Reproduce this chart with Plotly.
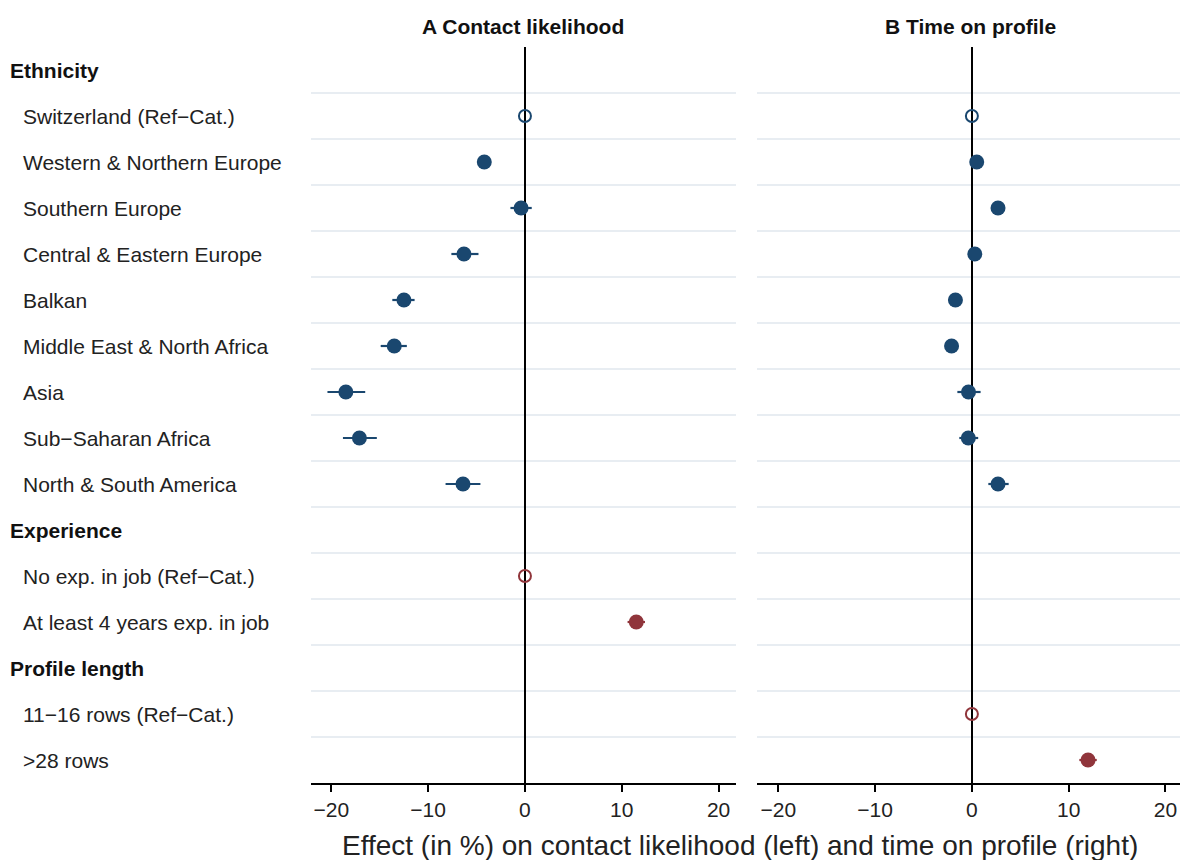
import plotly.graph_objects as go

# ---------------- data ----------------
row_labels = [
    "Ethnicity",
    "Switzerland (Ref\u2212Cat.)",
    "Western & Northern Europe",
    "Southern Europe",
    "Central & Eastern Europe",
    "Balkan",
    "Middle East & North Africa",
    "Asia",
    "Sub\u2212Saharan Africa",
    "North & South America",
    "Experience",
    "No exp. in job (Ref\u2212Cat.)",
    "At least 4 years exp. in job",
    "Profile length",
    "11\u221216 rows (Ref\u2212Cat.)",
    ">28 rows",
]
is_header = [True, False, False, False, False, False, False, False, False, False,
             True, False, False, True, False, False]
row_group = ["eth", "eth", "eth", "eth", "eth", "eth", "eth", "eth", "eth", "eth",
             "exp", "exp", "exp", "len", "len", "len"]
is_ref = [False, True, False, False, False, False, False, False, False, False,
          False, True, False, False, True, False]

# Panel A: contact likelihood (estimate, lower CI, upper CI)
contact_est = [None, 0, -4.2, -0.4, -6.3, -12.5, -13.5, -18.5, -17.1, -6.4,
               None, 0, 11.5, None, None, None]
contact_lo = [None, 0, -4.7, -1.5, -7.6, -13.7, -14.9, -20.4, -18.8, -8.2,
              None, 0, 10.6, None, None, None]
contact_hi = [None, 0, -3.7, 0.7, -4.8, -11.4, -12.2, -16.5, -15.3, -4.6,
              None, 0, 12.4, None, None, None]

# Panel B: time on profile
time_est = [None, 0, 0.5, 2.7, 0.3, -1.7, -2.1, -0.35, -0.37, 2.7,
            None, None, None, None, 0, 12.0]
time_lo = [None, 0, 0.1, 2.3, -0.1, -2.1, -2.5, -1.5, -1.3, 1.7,
           None, None, None, None, 0, 11.1]
time_hi = [None, 0, 0.9, 3.1, 0.7, -1.3, -1.7, 0.9, 0.65, 3.8,
           None, None, None, None, 0, 12.9]

panel_titles = ["<b>A Contact likelihood</b>", "<b>B Time on profile</b>"]
x_title = "Effect (in %) on contact likelihood (left) and time on profile (right)"
x_ticks = [-20, -10, 0, 10, 20]

# ---------------- style ----------------
NAVY = "#1a476f"
MAROON = "#90353b"
GRID = "#e8edf2"
FONT = "Liberation Sans, Arial, Helvetica, sans-serif"
group_color = {"eth": NAVY, "exp": MAROON, "len": MAROON}

rows = list(range(1, len(row_labels) + 1))

fig = go.Figure()


def add_panel(est, lo, hi, xa, ya):
    for i, v in enumerate(est):
        if v is None:
            continue
        c = group_color[row_group[i]]
        if is_ref[i]:
            fig.add_trace(go.Scatter(
                x=[v], y=[rows[i]], mode="markers", xaxis=xa, yaxis=ya,
                marker=dict(symbol="circle-open", size=12, color=c,
                            line=dict(width=2, color=c)),
                showlegend=False, hoverinfo="skip"))
        else:
            fig.add_trace(go.Scatter(
                x=[v], y=[rows[i]], mode="markers", xaxis=xa, yaxis=ya,
                marker=dict(symbol="circle", size=15, color=c),
                error_x=dict(type="data", symmetric=False,
                             array=[hi[i] - v], arrayminus=[v - lo[i]],
                             color=c, thickness=2.2, width=0),
                showlegend=False, hoverinfo="skip"))


add_panel(contact_est, contact_lo, contact_hi, "x", "y")
add_panel(time_est, time_lo, time_hi, "x2", "y2")

W, H = 1180, 860
T, B = 47, 77
PH = H - T - B
left_dom = [311 / W, 736 / W]
right_dom = [757 / W, 1.0]


def py(p):
    return (H - B - p) / PH


xcommon = dict(
    tickvals=x_ticks,
    ticktext=[("\u2212" + str(abs(t))) if t < 0 else str(t) for t in x_ticks],
    showgrid=False, zeroline=True, zerolinecolor="black", zerolinewidth=2,
    showline=True, linecolor="black", linewidth=1.5,
    ticks="outside", ticklen=7, tickwidth=1.5, tickcolor="black",
    tickfont=dict(family=FONT, size=21, color="#222"),
)
gridvals = [r + 0.5 for r in rows[:-1]]
ycommon = dict(
    range=[len(rows) + 0.5, 0.5], tickvals=gridvals, showticklabels=False,
    showgrid=True, gridcolor=GRID, gridwidth=1.5, zeroline=False, showline=False,
    ticks="",
)

fig.update_layout(
    width=W, height=H,
    margin=dict(l=0, r=0, t=T, b=B),
    paper_bgcolor="white", plot_bgcolor="white",
    font=dict(family=FONT, color="#222"),
    xaxis=dict(domain=left_dom, range=[-22.1, 21.8], anchor="y", **xcommon),
    xaxis2=dict(domain=right_dom, range=[-22.2, 21.5], anchor="y2", **xcommon),
    yaxis=dict(domain=[0, 1], anchor="x", **ycommon),
    yaxis2=dict(domain=[0, 1], anchor="x2", **ycommon),
)

annotations = []
for i, lab in enumerate(row_labels):
    if is_header[i]:
        annotations.append(dict(
            text="<b>" + lab + "</b>", x=8 / W, xref="paper", y=rows[i], yref="y",
            xanchor="left", yanchor="middle", showarrow=False,
            font=dict(family=FONT, size=21, color="#111")))
    else:
        annotations.append(dict(
            text=lab, x=21 / W, xref="paper", y=rows[i], yref="y",
            xanchor="left", yanchor="middle", showarrow=False,
            font=dict(family=FONT, size=21, color="#222")))

annotations.append(dict(text=panel_titles[0], x=523 / W, xref="paper", y=py(27),
                        yref="paper", xanchor="center", yanchor="middle", showarrow=False,
                        font=dict(family=FONT, size=21, color="#111")))
annotations.append(dict(text=panel_titles[1], x=970 / W, xref="paper", y=py(27),
                        yref="paper", xanchor="center", yanchor="middle", showarrow=False,
                        font=dict(family=FONT, size=21, color="#111")))
annotations.append(dict(text=x_title, x=740 / W, xref="paper", y=py(845),
                        yref="paper", xanchor="center", yanchor="middle", showarrow=False,
                        font=dict(family=FONT, size=28, color="#222")))

fig.update_layout(annotations=annotations)

fig.write_html("out.html", config={"displayModeBar": False},
               post_script="document.body.style.margin='0';document.body.style.overflow='hidden';")
